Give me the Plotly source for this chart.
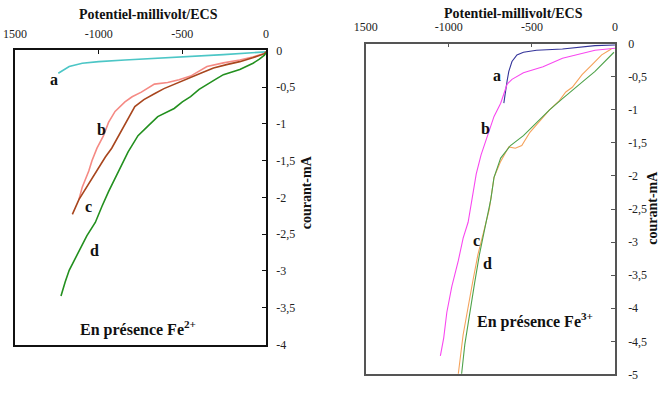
import plotly.graph_objects as go

# ---------- Data: left panel (Fe2+) ----------
L_a_x = [-1241, -1210, -1176, -1098, -1000, -843, -647, -451, -255, 0]
L_a_y = [-0.31, -0.27, -0.22, -0.175, -0.153, -0.131, -0.109, -0.079, -0.057, -0.02]

L_b_x = [0, -10, -80, -157, -255, -353, -451, -520, -588, -667, -745, -800, -843, -902, -941, -971, -1010, -1040, -1059, -1098, -1118]
L_b_y = [-0.02, -0.044, -0.09, -0.131, -0.17, -0.219, -0.35, -0.40, -0.437, -0.459, -0.568, -0.63, -0.70, -0.83, -0.98, -1.16, -1.33, -1.50, -1.64, -1.86, -2.03]

L_c_x = [0, -10, -80, -157, -230, -314, -380, -431, -490, -549, -610, -667, -730, -784, -830, -882, -922, -960, -1000, -1030, -1059, -1090, -1118, -1157]
L_c_y = [-0.02, -0.044, -0.10, -0.153, -0.19, -0.24, -0.30, -0.35, -0.41, -0.459, -0.52, -0.59, -0.67, -0.765, -0.95, -1.16, -1.33, -1.45, -1.60, -1.71, -1.81, -1.93, -2.03, -2.23]

L_d_x = [0, -10, -40, -78, -157, -255, -300, -353, -400, -451, -500, -549, -600, -647, -706, -765, -824, -882, -941, -980, -1020, -1070, -1118, -1150, -1176, -1200, -1225]
L_d_y = [-0.03, -0.066, -0.12, -0.175, -0.26, -0.33, -0.39, -0.46, -0.53, -0.63, -0.70, -0.79, -0.85, -0.90, -1.03, -1.16, -1.38, -1.64, -1.92, -2.12, -2.34, -2.52, -2.73, -2.86, -2.99, -3.15, -3.34]

# ---------- Data: right panel (Fe3+) ----------
R_a_x = [0, -120, -316, -472, -551, -590, -620, -639, -649, -659, -669]
R_a_y = [-0.02, -0.03, -0.08, -0.10, -0.13, -0.17, -0.27, -0.42, -0.56, -0.71, -0.90]

R_b_x = [0, -120, -316, -433, -551, -620, -649, -669, -688, -728, -767, -806, -835, -855, -884, -914, -943, -982, -1012, -1031, -1051]
R_b_y = [-0.07, -0.10, -0.22, -0.35, -0.44, -0.54, -0.61, -0.76, -0.90, -1.10, -1.39, -1.68, -1.97, -2.25, -2.70, -2.94, -3.28, -3.67, -4.06, -4.45, -4.72]

R_c_x = [-22, -80, -139, -198, -257, -296, -335, -394, -453, -512, -561, -600, -639, -688, -728, -747, -757, -786, -806, -825, -855, -884, -914, -943]
R_c_y = [-0.08, -0.17, -0.32, -0.47, -0.66, -0.73, -0.86, -1.00, -1.17, -1.34, -1.54, -1.58, -1.56, -1.78, -2.02, -2.31, -2.51, -2.80, -2.99, -3.19, -3.58, -3.97, -4.40, -4.99]

R_d_x = [-6, -61, -120, -178, -237, -316, -394, -472, -551, -629, -688, -728, -747, -776, -796, -816, -845, -874, -904, -923]
R_d_y = [-0.13, -0.27, -0.42, -0.54, -0.66, -0.83, -1.00, -1.20, -1.39, -1.54, -1.73, -2.02, -2.35, -2.70, -2.94, -3.19, -3.62, -4.06, -4.55, -4.99]

# ---------- Tick labels ----------
x_tickvals = [-1500, -1000, -500, 0]
x_ticktext = ["1500", "-1000", "-500", "0"]
yL_tickvals = [0, -0.5, -1, -1.5, -2, -2.5, -3, -3.5, -4]
yL_ticktext = ["0", "-0,5", "-1", "-1,5", "-2", "-2,5", "-3", "-3,5", "-4"]
yR_tickvals = [0, -0.5, -1, -1.5, -2, -2.5, -3, -3.5, -4, -4.5, -5]
yR_ticktext = ["0", "-0,5", "-1", "-1,5", "-2", "-2,5", "-3", "-3,5", "-4", "-4,5", "-5"]

W, H = 660, 393
SERIF = "Times New Roman, Liberation Serif, DejaVu Serif, serif"

fig = go.Figure()

def add(x, y, color, xa, ya, width):
    fig.add_trace(go.Scatter(x=x, y=y, mode="lines", xaxis=xa, yaxis=ya,
                             line=dict(color=color, width=width), showlegend=False,
                             hoverinfo="skip"))

add(L_a_x, L_a_y, "#4CC6C6", "x", "y", 1.6)
add(L_b_x, L_b_y, "#F58A84", "x", "y", 1.6)
add(L_c_x, L_c_y, "#A8461E", "x", "y", 1.6)
add(L_d_x, L_d_y, "#23901F", "x", "y", 1.6)

add(R_a_x, R_a_y, "#34349A", "x2", "y2", 1.1)
add(R_b_x, R_b_y, "#F848F0", "x2", "y2", 1.1)
add(R_c_x, R_c_y, "#F5A25A", "x2", "y2", 1.1)
add(R_d_x, R_d_y, "#4EA24A", "x2", "y2", 1.1)

tickfont = dict(family=SERIF, size=12, color="#222")

def xaxis(domain, lc):
    return dict(domain=domain, range=[-1500, 0], side="top", tickvals=x_tickvals,
                ticktext=x_ticktext, ticks="inside", ticklen=4, tickcolor=lc,
                showline=True, linecolor=lc, linewidth=1.5, mirror=True,
                showgrid=False, zeroline=False, tickfont=tickfont, ticklabelstandoff=6)

def yaxis(domain, rng, tv, tt, anchor, lc, standoff):
    return dict(domain=domain, range=rng, side="right", anchor=anchor, tickvals=tv,
                ticktext=tt, ticks="inside", ticklen=4, tickcolor=lc,
                showline=True, linecolor=lc, linewidth=1.5, mirror=True,
                showgrid=False, zeroline=False, tickfont=tickfont,
                ticklabelstandoff=standoff)

fig.update_layout(
    width=W, height=H, margin=dict(l=0, r=0, t=0, b=0),
    paper_bgcolor="white", plot_bgcolor="white",
    font=dict(family=SERIF),
    xaxis=xaxis([3 / W, 260 / W], "#111"),
    yaxis=yaxis([(H - 350) / H, (H - 45) / H], [-4, 0], yL_tickvals, yL_ticktext, "x", "#111", 6),
    xaxis2=dict(xaxis([362 / W, 617 / W], "#555"), anchor="y2"),
    yaxis2=yaxis([(H - 381) / H, (H - 38) / H], [-5, 0], yR_tickvals, yR_ticktext, "x2", "#555", 9),
)

def ann(text, x, y, xref, yref, size=15, angle=0):
    fig.add_annotation(text=text, x=x, y=y, xref=xref, yref=yref, showarrow=False,
                       textangle=angle, font=dict(family=SERIF, size=size, color="#111"),
                       xanchor="center", yanchor="middle")

# axis titles
ann("<b>Potentiel-millivolt/ECS</b>", 140 / W, 1 - 8 / H, "paper", "paper", 14)
ann("<b>Potentiel-millivolt/ECS</b>", 513 / W, 1 - 7 / H, "paper", "paper", 14)
ann("<b>courant-mA</b>", 301 / W, 1 - 192 / H, "paper", "paper", 14, -90)
ann("<b>courant-mA</b>", 655 / W, 1 - 208 / H, "paper", "paper", 14, -90)

# curve labels, left
ann("<b>a</b>", -1265, -0.39, "x", "y", 16)
ann("<b>b</b>", -982, -1.08, "x", "y", 16)
ann("<b>c</b>", -1059, -2.12, "x", "y", 16)
ann("<b>d</b>", -1024, -2.72, "x", "y", 16)
ann("<b>En présence Fe<sup>2+</sup></b>", -765, -3.78, "x", "y", 16)

# curve labels, right
ann("<b>a</b>", -708, -0.48, "x2", "y2", 16)
ann("<b>b</b>", -782, -1.28, "x2", "y2", 16)
ann("<b>c</b>", -831, -2.98, "x2", "y2", 16)
ann("<b>d</b>", -767, -3.33, "x2", "y2", 16)
ann("<b>En présence Fe<sup>3+</sup></b>", -482, -4.19, "x2", "y2", 16)

fig.write_html("out.html")
